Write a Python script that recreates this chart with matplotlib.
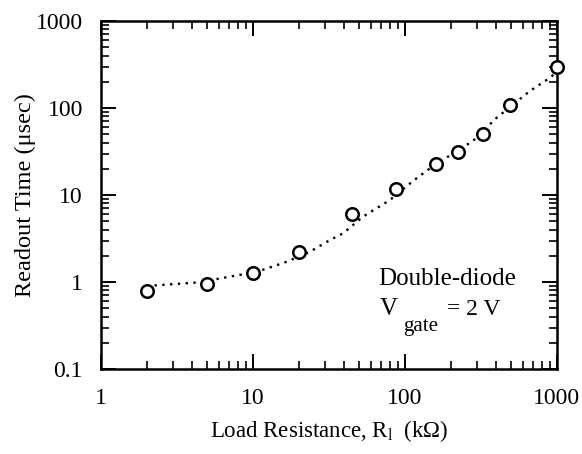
import matplotlib
matplotlib.use("Agg")
import matplotlib.pyplot as plt
from matplotlib.ticker import LogLocator, FixedLocator, NullFormatter

plt.rcParams['font.family'] = ['Liberation Serif', 'DejaVu Serif']
plt.rcParams['mathtext.fontset'] = 'custom'
plt.rcParams['mathtext.rm'] = 'Liberation Serif'
plt.rcParams['mathtext.it'] = 'Liberation Serif:italic'

# Measured data (load resistance in kOhm, readout time in microseconds)
resistance = [2, 5, 10, 20, 45, 87, 160, 222, 324, 490, 1000]
readout_time = [0.79, 0.94, 1.28, 2.23, 6.0, 11.6, 22.9, 31.5, 50, 108, 298]

# Fitted (dotted) curve
fit_resistance = [2.0, 4.35, 10.6, 16.7, 23.7, 32.1, 39.1, 53.2, 79.7, 113, 153, 280, 401, 664, 899, 1000]
fit_time = [0.90, 0.99, 1.31, 1.71, 2.23, 3.04, 3.62, 5.67, 8.77, 14.5, 21.5, 41.8, 77.4, 157, 223, 262]

x_ticks = [1, 10, 100, 1000]
x_ticklabels = ['1', '10', '100', '1000']
y_ticks = [0.1, 1, 10, 100, 1000]
y_ticklabels = ['0.1', '1', '10', '100', '1000']

fig = plt.figure(figsize=(5.82, 4.54), dpi=100)
ax = fig.add_axes([0.1735, 0.1872, 0.7835, 0.7665])

ax.plot(fit_resistance, fit_time, linestyle=(0, (1, 2.3)), color='black', lw=1.7)
ax.plot(resistance, readout_time, linestyle='none', marker='o', ms=9,
        mfc='white', mec='black', mew=1.8, clip_on=False, zorder=3)

ax.set_xscale('log')
ax.set_yscale('log')
ax.set_xlim(1, 1000)
ax.set_ylim(0.1, 1000)

ax.xaxis.set_major_locator(FixedLocator(x_ticks))
ax.set_xticklabels(x_ticklabels)
ax.yaxis.set_major_locator(FixedLocator(y_ticks))
ax.set_yticklabels(y_ticklabels)
ax.xaxis.set_minor_locator(LogLocator(base=10, subs=range(2, 10), numticks=20))
ax.yaxis.set_minor_locator(LogLocator(base=10, subs=range(2, 10), numticks=20))
ax.xaxis.set_minor_formatter(NullFormatter())
ax.yaxis.set_minor_formatter(NullFormatter())

ax.tick_params(which='both', direction='in', top=True, right=True, colors='black')
ax.tick_params(which='major', length=11, width=1.4, labelsize=17)
ax.tick_params(which='minor', length=5.5, width=1.2)
ax.tick_params(axis='x', which='major', pad=14)
ax.tick_params(axis='y', which='major', pad=13)

for s in ax.spines.values():
    s.set_linewidth(1.8)

ax.set_xlabel(r'Load Resistance, R$_{\rm l}$  (k$\Omega$)', fontsize=16.5, labelpad=6)
ax.set_ylabel('Readout Time (\u03bcsec)', fontsize=17.5, labelpad=0)

ax.text(0.607, 0.241, 'Double-diode', transform=ax.transAxes, ha='left', va='baseline', fontsize=18)
ax.text(0.612, 0.155, 'V', transform=ax.transAxes, ha='left', va='baseline', fontsize=18)
ax.text(0.662, 0.110, 'gate', transform=ax.transAxes, ha='left', va='baseline', fontsize=15)
ax.text(0.759, 0.155, '= 2 V', transform=ax.transAxes, ha='left', va='baseline', fontsize=17)

fig.savefig('out.png', dpi=100)
